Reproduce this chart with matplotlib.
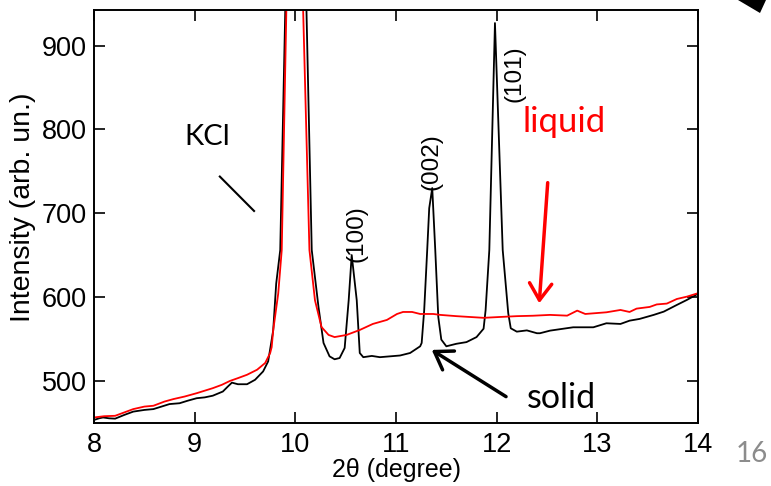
import matplotlib
matplotlib.use("Agg")
import matplotlib.pyplot as plt
from matplotlib.patches import Polygon

# ---- data ----
solid_x = [8.00, 8.05, 8.09, 8.15, 8.21, 8.30, 8.39, 8.50, 8.59, 8.67, 8.75, 8.85, 8.93,
           9.02, 9.10, 9.18, 9.28, 9.33, 9.37, 9.43, 9.52, 9.60, 9.68, 9.73, 9.76, 9.78,
           9.81, 9.85, 9.91, 10.00, 10.10, 10.163, 10.23, 10.28, 10.34, 10.39, 10.44,
           10.49, 10.53, 10.56, 10.61, 10.64, 10.675, 10.76, 10.84, 10.94, 11.04, 11.14,
           11.24, 11.255, 11.28, 11.31, 11.33, 11.36, 11.39, 11.42, 11.45, 11.50, 11.60,
           11.70, 11.80, 11.87, 11.89, 11.927, 11.983, 12.06, 12.115, 12.14, 12.20, 12.30,
           12.40, 12.43, 12.53, 12.76, 12.96, 13.09, 13.23, 13.32, 13.42, 13.56, 13.66,
           13.79, 13.89, 13.96, 14.00]
solid_y = [453, 455, 456, 455, 454.6, 459, 463, 465, 466, 469, 472, 473, 476,
           479, 480, 482, 487, 493, 497.6, 495.7, 495.7, 501, 511, 523, 545, 560,
           616, 656, 1000, 2000, 1000, 656, 588, 545, 529, 525.5, 527,
           539, 596, 650, 596, 533, 528, 529.5, 528, 529, 530, 533,
           541, 545, 584, 656, 706, 730, 656, 576, 549, 541, 544,
           546, 552, 562, 584, 656, 927, 656, 580.5, 562.5, 558.5, 560,
           556.6, 556.6, 559.7, 563.7, 563.7, 568.5, 567.7, 571.6, 573.7, 578.5, 582.4,
           590.4, 596.4, 601, 604]

liquid_x = [8.00, 8.10, 8.21, 8.30, 8.39, 8.50, 8.59, 8.70, 8.79, 8.90, 9.02, 9.10, 9.18,
            9.27, 9.35, 9.43, 9.52, 9.62, 9.70, 9.75, 9.765, 9.78, 9.83, 9.865, 9.92,
            10.00, 10.065, 10.14, 10.195, 10.26, 10.33, 10.39, 10.51, 10.64, 10.77, 10.91,
            11.01, 11.07, 11.16, 11.24, 11.37, 11.44, 11.60, 11.87, 12.03, 12.20, 12.36,
            12.53, 12.70, 12.80, 12.88, 13.09, 13.23, 13.32, 13.39, 13.52, 13.59, 13.69,
            13.79, 13.89, 14.00]
liquid_y = [456, 457.5, 458, 462, 466, 469, 470, 475, 478, 481, 485, 488, 491,
            495, 499.6, 503, 507, 513, 521, 533, 540, 560, 604, 656, 1000,
            1800, 1000, 656, 596, 564, 554.6, 552, 554.6, 560.5, 567.7, 572.5,
            579.6, 582, 582, 579.6, 579.6, 578.5, 577, 575, 576, 577, 577.5,
            578.5, 577.6, 583.6, 579.6, 581.6, 584.4, 582, 586, 588, 591, 592,
            597.5, 600.3, 604.4]

x_ticks = [8, 9, 10, 11, 12, 13, 14]
y_ticks = [500, 600, 700, 800, 900]

peak_labels = ["(100)", "(002)", "(101)"]
peak_label_x = [10.61, 11.35, 12.18]
peak_label_y = [676, 762, 867]

# ---- figure ----
fig = plt.figure(figsize=(7.71, 4.86), dpi=100)
ax = fig.add_axes([94 / 771, 1 - 422.5 / 486, (698 - 94) / 771, (422.5 - 10.5) / 486])

ax.plot(solid_x, solid_y, color="black", lw=1.3)
ax.plot(liquid_x, liquid_y, color="red", lw=1.3)

ax.set_xlim(8, 14)
ax.set_ylim(450, 942)
ax.set_xticks(x_ticks)
ax.set_yticks(y_ticks)
ax.set_xticklabels([str(t) for t in x_ticks], family="Liberation Sans", fontsize=19.5)
ax.set_yticklabels([str(t) for t in y_ticks], family="Liberation Sans", fontsize=19.5)
ax.tick_params(direction="in", length=8, width=1.2, top=True, right=True)
ax.tick_params(axis="x", pad=7)
ax.tick_params(axis="y", pad=5)
for s in ax.spines.values():
    s.set_linewidth(1.4)

ax.set_xlabel("2θ (degree)", family="Liberation Sans", fontsize=18, labelpad=0)
ax.set_ylabel("Intensity (arb. un.)", family="Liberation Sans", fontsize=20.5)
ax.yaxis.set_label_coords(-0.096, 0.522)

for lab, lx, ly in zip(peak_labels, peak_label_x, peak_label_y):
    ax.text(lx, ly, lab, rotation=90, ha="center", va="center",
            family="Liberation Sans", fontsize=17.5)

ax.text(9.12, 791, "KCl", ha="center", va="center", family="Lato", fontsize=21)
ax.plot([9.25, 9.59], [743.7, 702.6], color="black", lw=1.5)

ax.text(12.67, 809, "liquid", ha="center", va="center", family="Lato",
        fontsize=25, color="red")
ax.annotate("", xy=(12.423, 592.4), xytext=(12.507, 736.4),
            arrowprops=dict(arrowstyle="->,head_length=0.6,head_width=0.4",
                            color="red", lw=2.5, mutation_scale=20,
                            shrinkA=0, shrinkB=0))

ax.text(12.64, 479, "solid", ha="center", va="center", family="Lato", fontsize=24.5)
ax.annotate("", xy=(11.355, 536.7), xytext=(12.093, 480.9),
            arrowprops=dict(arrowstyle="->,head_length=0.6,head_width=0.4",
                            color="black", lw=2.5, mutation_scale=20,
                            shrinkA=0, shrinkB=0))

fig.text(752 / 771, 1 - 454 / 486, "16", ha="center", va="center",
         family="Lato", fontsize=20, color="#8c8c8c")

# fragment of a black arrow head at the top-right corner
fig.patches.append(Polygon([[738 / 771, 1.0], [766 / 771, 1.0], [760 / 771, 1 - 13 / 486]],
                           closed=True, transform=fig.transFigure,
                           facecolor="black", edgecolor="none"))

fig.savefig("out.png", dpi=100)
